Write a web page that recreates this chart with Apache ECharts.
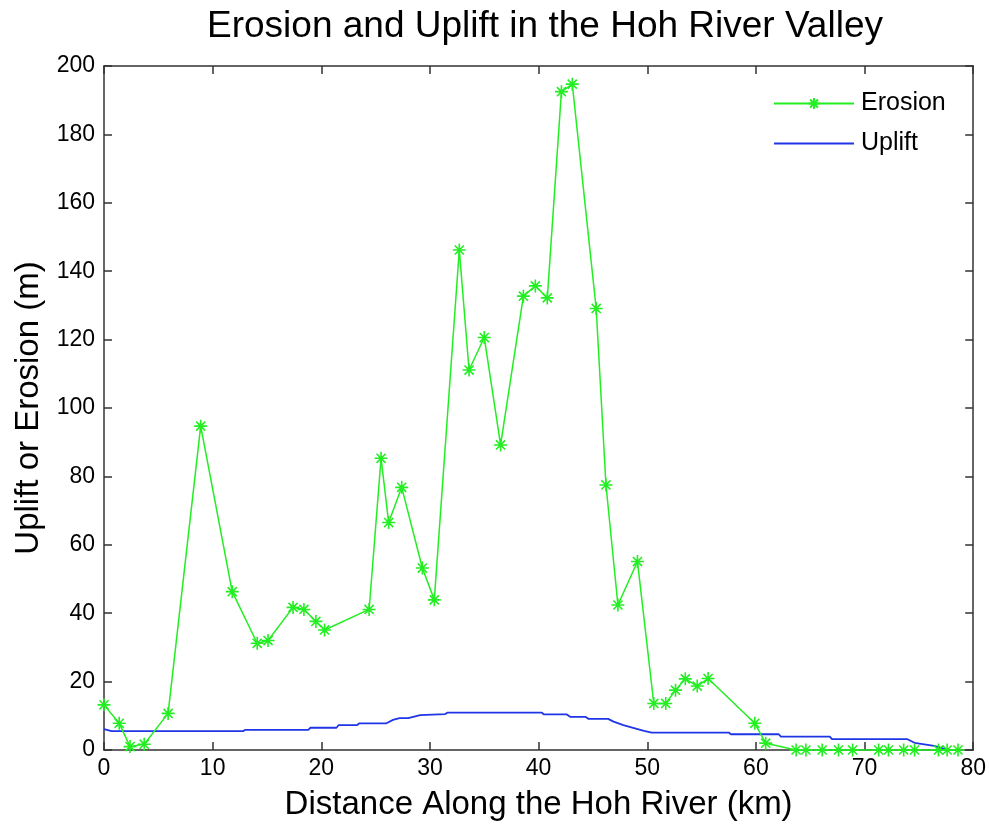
<!DOCTYPE html>
<html>
<head>
<meta charset="utf-8">
<title>Erosion and Uplift in the Hoh River Valley</title>
<script src="https://cdn.jsdelivr.net/npm/echarts@6/dist/echarts.min.js"></script>
<style>
  html, body { margin: 0; padding: 0; background: #ffffff; }
  #chart { width: 989px; height: 830px; }
</style>
</head>
<body>
<div id="chart"></div>
<script>
// Distance along the river (km) for each erosion sample
const erosionKm = [0, 1.4, 2.4, 3.7, 5.9, 8.9, 11.8, 14.1, 15.1, 17.4,
  18.4, 19.5, 20.3, 24.4, 25.5, 26.2, 27.4, 29.3, 30.4, 32.7,
  33.6, 35.0, 36.5, 38.6, 39.7, 40.8, 42.1, 43.1, 45.3, 46.2,
  47.3, 49.1, 50.6, 51.7, 52.6, 53.5, 54.6, 55.6, 59.9, 60.9,
  63.7, 64.6, 66.1, 67.6, 68.9, 71.3, 72.2, 73.6, 74.6, 76.8,
  77.6, 78.6];
// Erosion (m)
const erosionM = [13.2, 7.8, 1.0, 1.7, 10.7, 94.7, 46.3, 31.2, 32.0, 41.7,
  41.1, 37.6, 35.1, 41.1, 85.3, 66.5, 76.8, 53.2, 43.9, 146.2,
  111.1, 120.6, 89.2, 132.7, 135.7, 132.2, 192.5, 194.7, 129.1, 77.5,
  42.4, 55.1, 13.6, 13.6, 17.5, 20.8, 18.7, 20.9, 7.8, 2.0,
  0, 0, 0, 0, 0, 0, 0, 0, 0, 0,
  0, 0];

// Uplift profile (km, m)
const upliftKm = [0, 0.7, 12.8, 13.0, 18.8, 19.0, 21.4, 21.6, 23.3, 23.5,
  26.0, 26.6, 27.2, 28.0, 29.1, 31.4, 31.6, 40.3, 40.5, 42.6,
  42.9, 44.3, 44.6, 46.4, 46.9, 47.8, 48.7, 49.7, 50.4, 57.5,
  57.7, 62.1, 62.3, 66.8, 67.0, 73.9, 74.6, 76.4, 77.8];
const upliftM = [6.1, 5.5, 5.5, 5.9, 5.9, 6.5, 6.5, 7.3, 7.3, 7.8,
  7.8, 8.8, 9.3, 9.3, 10.2, 10.5, 10.9, 10.9, 10.4, 10.4,
  9.7, 9.7, 9.1, 9.1, 8.3, 7.3, 6.5, 5.6, 5.1, 5.1,
  4.6, 4.6, 3.9, 3.9, 3.2, 3.2, 2.1, 1.2, 0];

const xTicks = { min: 0, max: 80, interval: 10 };
const yTicks = { min: 0, max: 200, interval: 20 };

const FONT = '"Liberation Sans", Arial, Helvetica, sans-serif';
const GREEN = '#22ee22';
const BLUE = '#1f35e6';
const AXIS = '#333333';

// asterisk marker drawn as stroked strokes
const STAR = 'path://M10,0L10,20M0,10L20,10M3,3L17,17M3,17L17,3';
// plain line swatch for the uplift legend entry
const LINE_ICON = 'path://M0,0H80V2H0Z';

const pair = (xs, ys) => xs.map((x, i) => [x, ys[i]]);

const frameAxis = (extra) => Object.assign({
  type: 'value',
  splitLine: { show: false },
  axisLine: { show: true, onZero: false, lineStyle: { color: AXIS, width: 1.5 } },
  axisTick: { show: true, inside: true, length: 8, lineStyle: { color: AXIS, width: 1.5 } }
}, extra);

const chart = echarts.init(document.getElementById('chart'), null, { renderer: 'canvas' });

chart.setOption({
  backgroundColor: '#ffffff',
  animation: false,
  title: {
    text: 'Erosion and Uplift in the Hoh River Valley',
    left: 540,
    textAlign: 'center',
    top: 3,
    textStyle: { fontFamily: FONT, fontSize: 37, fontWeight: 'normal', color: '#000' }
  },
  legend: {
    orient: 'vertical',
    left: 768,
    top: 86,
    itemWidth: 80,
    itemHeight: 14,
    itemGap: 15,
    symbolKeepAspect: true,
    textStyle: { fontFamily: FONT, fontSize: 25, color: '#000', padding: [0, 0, 0, 2] },
    data: [
      { name: 'Erosion' },
      { name: 'Uplift', icon: LINE_ICON, itemStyle: { color: BLUE } }
    ]
  },
  grid: { left: 104, right: 15, top: 66, bottom: 80, containLabel: false },
  xAxis: [
    frameAxis({
      position: 'bottom',
      min: xTicks.min, max: xTicks.max, interval: xTicks.interval,
      name: 'Distance Along the Hoh River (km)',
      nameLocation: 'middle',
      nameGap: 38,
      nameTextStyle: { fontFamily: FONT, fontSize: 33, color: '#000' },
      axisLabel: { fontFamily: FONT, fontSize: 23, color: '#000', margin: 7 }
    }),
    frameAxis({
      position: 'top',
      min: xTicks.min, max: xTicks.max, interval: xTicks.interval,
      axisLabel: { show: false }
    })
  ],
  yAxis: [
    frameAxis({
      position: 'left',
      min: yTicks.min, max: yTicks.max, interval: yTicks.interval,
      name: 'Uplift or Erosion (m)',
      nameLocation: 'middle',
      nameGap: 57,
      nameTextStyle: { fontFamily: FONT, fontSize: 33, color: '#000' },
      axisLabel: { fontFamily: FONT, fontSize: 23, color: '#000', margin: 9 }
    }),
    frameAxis({
      position: 'right',
      min: yTicks.min, max: yTicks.max, interval: yTicks.interval,
      axisLabel: { show: false }
    })
  ],
  series: [
    {
      name: 'Erosion',
      type: 'line',
      xAxisIndex: 0,
      yAxisIndex: 0,
      data: pair(erosionKm, erosionM),
      symbol: STAR,
      symbolSize: 13,
      showAllSymbol: true,
      clip: false,
      lineStyle: { color: GREEN, width: 1.5 },
      itemStyle: { color: GREEN, borderColor: GREEN, borderWidth: 1.6 },
      z: 3
    },
    {
      name: 'Uplift',
      type: 'line',
      xAxisIndex: 0,
      yAxisIndex: 0,
      data: pair(upliftKm, upliftM),
      symbol: 'none',
      clip: false,
      lineStyle: { color: BLUE, width: 1.8 },
      itemStyle: { color: BLUE },
      z: 2
    }
  ]
});
</script>
</body>
</html>
